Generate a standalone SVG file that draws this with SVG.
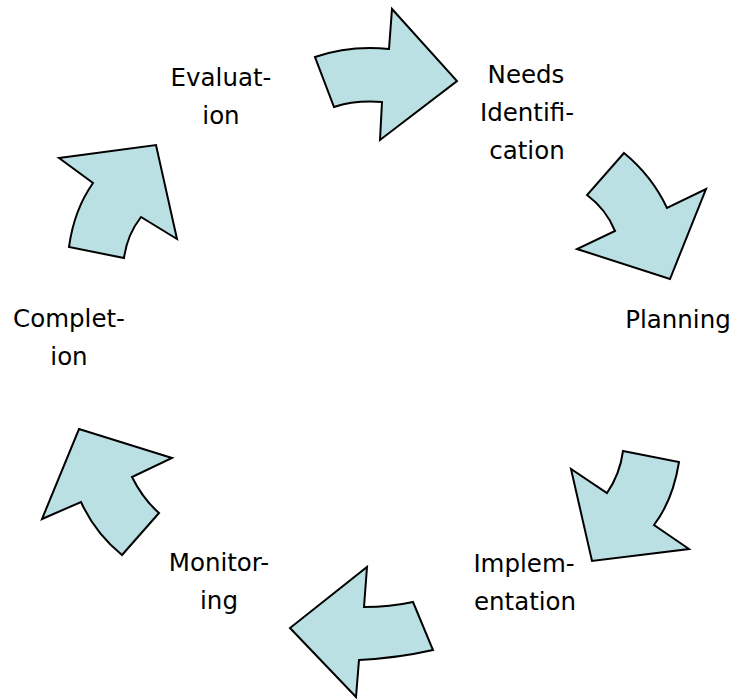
<svg xmlns="http://www.w3.org/2000/svg" width="733" height="699" viewBox="0 0 733 699">
<style>
.arrow{fill:#bbe0e3;stroke:#000;stroke-width:2;stroke-linejoin:miter}
.lbl{font-family:"DejaVu Sans",Verdana,sans-serif;font-size:24.5px;fill:#000;text-anchor:middle}
</style>
<rect width="733" height="699" fill="#fff"/>
<g id="connectors">
<path class="arrow" d="M315,57 Q350,45 389,49 L392,9 L457,81 L380,140 L382,102 Q355,100 334,107 Z"/>
<path class="arrow" d="M624,153 Q652,176 667,208 L706,189 L670,279 L577,249 L615,231 Q606,209 587,195 Z"/>
<path class="arrow" d="M623,451 L679,462 Q673,500 654,525 L689,549 L592,561 L571,469 L607,493 Q620,474 623,451 Z"/>
<path class="arrow" d="M367,567 L364,607 Q390,607 413,602 L433,650 Q398,658 359,660 L356,697 L290,628 Z"/>
<path class="arrow" d="M79,429 L172,458 L132,477 Q143,499 159,513 L122,555 Q95,533 81,502 L42,519 Z"/>
<path class="arrow" d="M59,158 L156,145 L177,239 L141,217 Q127,235 124,258 L69,247 Q74,210 93,183 Z"/>
</g>
<g id="needs"><text class="lbl" x="526" y="83">Needs</text><text class="lbl" x="527" y="121">Identifi-</text><text class="lbl" x="527" y="159">cation</text></g>
<g id="planning"><text class="lbl" x="678" y="328">Planning</text></g>
<g id="implementation"><text class="lbl" x="524" y="572">Implem-</text><text class="lbl" x="525" y="610">entation</text></g>
<g id="monitoring"><text class="lbl" x="219" y="571">Monitor-</text><text class="lbl" x="219" y="609">ing</text></g>
<g id="completion"><text class="lbl" x="69" y="327">Complet-</text><text class="lbl" x="69" y="365">ion</text></g>
<g id="evaluation"><text class="lbl" x="221" y="86">Evaluat-</text><text class="lbl" x="221" y="124">ion</text></g>
</svg>
